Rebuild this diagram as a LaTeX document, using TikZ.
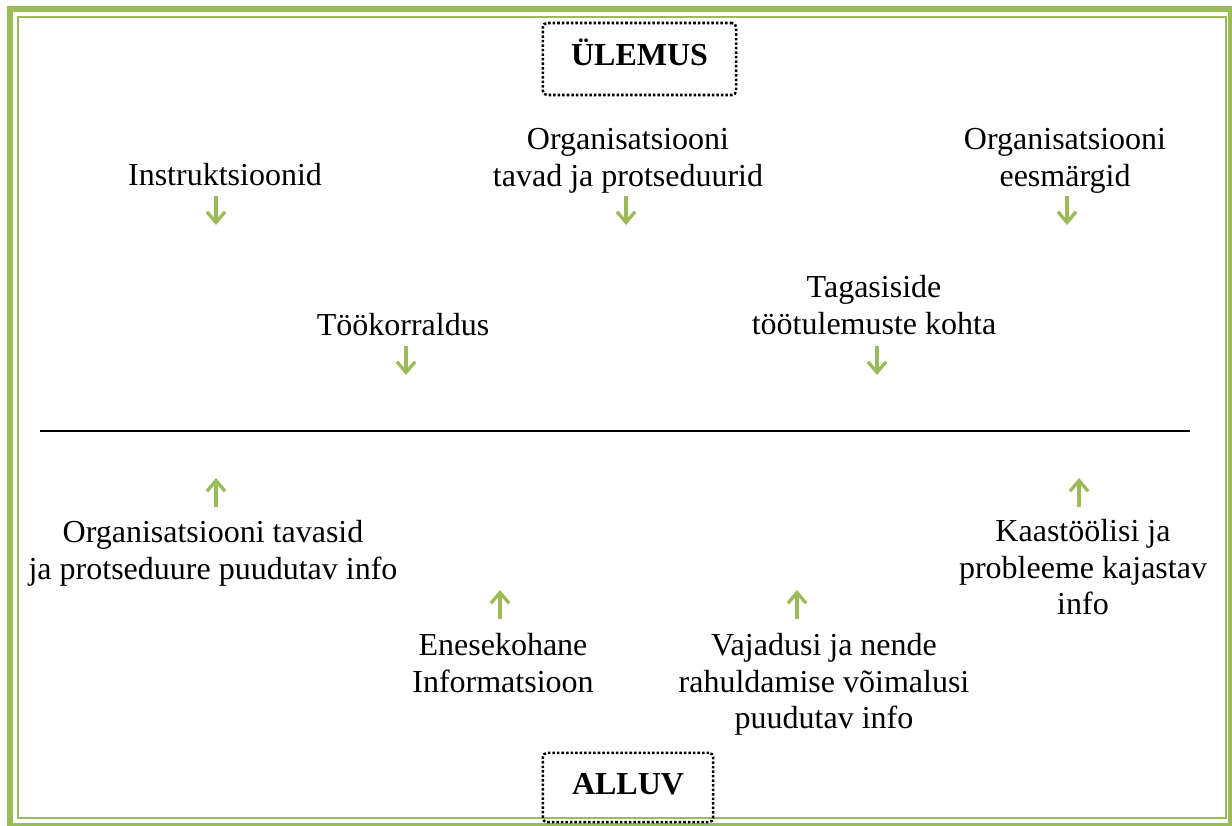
\documentclass[tikz,border=0pt]{standalone}
\usepackage{fontspec}
\setmainfont{Liberation Serif}
\usepackage{xcolor}
\usetikzlibrary{arrows.meta}
\definecolor{olivegreen}{HTML}{9BBB59}

\begin{document}
\begin{tikzpicture}[x=0.375pt, y=-0.375pt,
    >={Straight Barb[length=4pt,width=6.8pt]}]
  \tikzstyle{lbl} = [align=center, inner sep=0pt, anchor=north,
    font=\fontsize{12}{13.8}\selectfont]
  \tikzstyle{dotbox} = [draw, line width=0.95pt, dash pattern=on 0.95pt off 0.75pt,
    rounded corners=1.5pt, inner sep=0pt, text height=8pt, text depth=3pt,
    font=\fontsize{12}{13.8}\selectfont\bfseries]
  \tikzstyle{flow} = [->, draw=olivegreen, line width=1.25pt]
  \useasboundingbox (0,0) rectangle (1232,826);
  % page frame
  \draw[olivegreen, line width=2.6pt] (10,9) rectangle (1231.5,826.5);
  \draw[olivegreen, line width=0.75pt] (18,17.5) rectangle (1226,818);
  % the two sides
  \node[dotbox, minimum width=72.4pt, minimum height=27pt] (ulemus) at (639.5,59) {ÜLEMUS};
  \node[dotbox, minimum width=63.8pt, minimum height=25.9pt] (alluv) at (628,787.5) {ALLUV};
  % downward information
  \node[lbl] (instr) at (225,159) {\strut Instruktsioonid};
  \node[lbl] (tavad) at (628,123) {\strut Organisatsiooni\\tavad ja protseduurid};
  \node[lbl] (eesm) at (1065,123) {\strut Organisatsiooni\\eesmärgid};
  \node[lbl] (tookorr) at (403,309) {\strut Töökorraldus};
  \node[lbl] (tagasi) at (874,271) {\strut Tagasiside\\töötulemuste kohta};
  % upward information
  \node[lbl] (tavasid) at (213,516) {\strut Organisatsiooni tavasid\\ja protseduure puudutav info};
  \node[lbl] (kaast) at (1083,515) {\strut Kaastöölisi ja\\probleeme kajastav\\info};
  \node[lbl] (enese) at (503,629) {\strut Enesekohane\\Informatsioon};
  \node[lbl] (vajad) at (824,629) {\strut Vajadusi ja nende\\rahuldamise võimalusi\\puudutav info};
  % dividing line
  \coordinate (sepL) at (40,431);
  \coordinate (sepR) at (1190,431);
  \draw[line width=0.55pt] (sepL) -- (sepR);
  % arrows
  \foreach \x/\y [count=\i] in {216/196, 626/196, 1067/196, 406/346, 877/346} {
    \coordinate (down\i) at (\x,\y);
    \coordinate (down\i-tip) at (\x,\y+29);
    \draw[flow] (down\i) -- (down\i-tip);
  }
  \foreach \x/\y [count=\i] in {216/507, 1079/507, 500/619, 797/619} {
    \coordinate (up\i) at (\x,\y);
    \coordinate (up\i-tip) at (\x,\y-29);
    \draw[flow] (up\i) -- (up\i-tip);
  }
\end{tikzpicture}
\end{document}
